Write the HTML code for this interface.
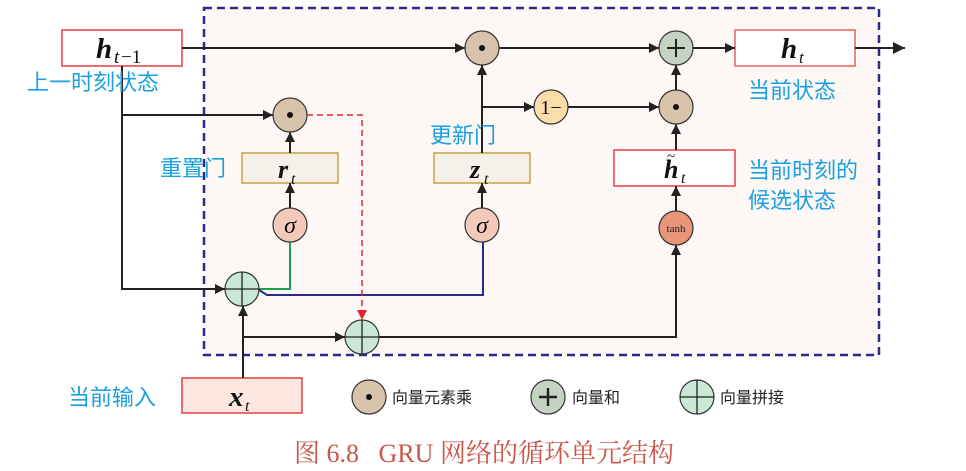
<!DOCTYPE html>
<html><head><meta charset="utf-8"><style>
html,body{margin:0;padding:0;background:#fff;width:966px;height:471px;overflow:hidden}
svg{display:block}
.cn{font-family:"Liberation Sans","Noto Sans CJK SC",sans-serif;fill:#1aa0e0;font-size:22px}
.lg{font-family:"Liberation Sans","Noto Sans CJK SC",sans-serif;fill:#222;font-size:16px}
.m{font-family:"Liberation Serif",serif;font-weight:bold;font-style:italic;fill:#111}
.s{font-family:"Liberation Serif",serif;font-style:italic;fill:#111}
</style></head><body>
<svg width="966" height="471" viewBox="0 0 966 471" xmlns="http://www.w3.org/2000/svg">
<defs>
<marker id="a" viewBox="0 0 10 10" refX="10" refY="5" markerWidth="11" markerHeight="10" markerUnits="userSpaceOnUse" orient="auto"><path d="M0,0 L10,5 L0,10 z" fill="#222"/></marker>
<marker id="ab" viewBox="0 0 10 10" refX="10" refY="5" markerWidth="13" markerHeight="12" markerUnits="userSpaceOnUse" orient="auto"><path d="M0,0 L10,5 L0,10 z" fill="#222"/></marker>
<marker id="ar" viewBox="0 0 10 10" refX="10" refY="5" markerWidth="11" markerHeight="10" markerUnits="userSpaceOnUse" orient="auto"><path d="M0,0 L10,5 L0,10 z" fill="#e8202a"/></marker>
</defs>
<rect x="204" y="8" width="675" height="347" fill="#fdf7f5" stroke="#2a2a8c" stroke-width="2.5" stroke-dasharray="8,5"/>
<rect x="62" y="30" width="120" height="36" fill="#fff" stroke="#e04040" stroke-width="1.5"/>
<text x="96" y="58" class="m" font-size="29">h</text><text x="114" y="63" class="s" font-size="19">t</text><text x="121" y="63" font-family="Liberation Serif" font-size="19" fill="#111">−1</text>
<rect x="735" y="30" width="120" height="36" fill="#fff" stroke="#e86060" stroke-width="1.5"/>
<text x="781" y="58" class="m" font-size="29">h</text><text x="799" y="63" class="s" font-size="17">t</text>
<rect x="242" y="153" width="96" height="30" fill="#f4f1ea" stroke="#c8a040" stroke-width="1.5"/>
<text x="278" y="178" class="m" font-size="26">r</text><text x="291" y="184" class="s" font-size="16">t</text>
<rect x="434" y="153" width="96" height="30" fill="#f4f1ea" stroke="#c8a040" stroke-width="1.5"/>
<text x="470" y="178" class="m" font-size="26">z</text><text x="484" y="184" class="s" font-size="16">t</text>
<rect x="614" y="150" width="121" height="36" fill="#fff" stroke="#e04040" stroke-width="1.5"/>
<text x="664" y="178" class="m" font-size="26">h</text><text x="667" y="161" font-family="Liberation Serif" font-size="15" fill="#111">~</text><text x="681" y="183" class="s" font-size="16">t</text>
<rect x="182" y="378" width="120" height="35" fill="#fce6df" stroke="#e04040" stroke-width="1.5"/>
<text x="229" y="406" class="m" font-size="29">x</text><text x="245" y="411" class="s" font-size="16">t</text>
<g stroke="#222" stroke-width="2" fill="none">
<line x1="182" y1="48" x2="465" y2="48" marker-end="url(#a)"/>
<line x1="499" y1="48" x2="659" y2="48" marker-end="url(#a)"/>
<line x1="693" y1="48" x2="735" y2="48" marker-end="url(#a)"/>
<line x1="855" y1="48" x2="905" y2="48" marker-end="url(#ab)"/>
<polyline points="122,66 122,289 225,289" marker-end="url(#a)"/>
<line x1="122" y1="115" x2="273" y2="115" marker-end="url(#a)"/>
<line x1="290" y1="153" x2="290" y2="132" marker-end="url(#a)"/>
<line x1="290" y1="208" x2="290" y2="183" marker-end="url(#a)"/>
<line x1="482" y1="153" x2="482" y2="65" marker-end="url(#a)"/>
<line x1="482" y1="208" x2="482" y2="183" marker-end="url(#a)"/>
<line x1="482" y1="107" x2="534" y2="107" marker-end="url(#a)"/>
<line x1="568" y1="107" x2="659" y2="107" marker-end="url(#a)"/>
<line x1="676" y1="90" x2="676" y2="65" marker-end="url(#a)"/>
<line x1="676" y1="150" x2="676" y2="124" marker-end="url(#a)"/>
<line x1="676" y1="211" x2="676" y2="186" marker-end="url(#a)"/>
<polyline points="379,337 676,337 676,245" marker-end="url(#a)"/>
<line x1="243" y1="378" x2="243" y2="306" marker-end="url(#a)"/>
<line x1="243" y1="337" x2="345" y2="337" marker-end="url(#a)"/>
</g>
<polyline points="259,289 290,289 290,242" fill="none" stroke="#1aa050" stroke-width="2"/>
<polyline points="259,290 267,295 483,295 483,242" fill="none" stroke="#2a2a8c" stroke-width="2"/>
<polyline points="307,115 362,115 362,320" fill="none" stroke="#e8202a" stroke-width="1.5" stroke-dasharray="6,4" marker-end="url(#ar)"/>
<g stroke="#333" stroke-width="1.2">
<circle cx="482" cy="48" r="17" fill="#d6c3aa"/><circle cx="290" cy="115" r="17" fill="#d6c3aa"/><circle cx="676" cy="107" r="17" fill="#d6c3aa"/>
<circle cx="676" cy="48" r="17" fill="#c5d3c3"/>
<circle cx="551" cy="107" r="17" fill="#fcdcaa"/>
<circle cx="290" cy="225" r="17" fill="#f5c9b8"/><circle cx="482" cy="225" r="17" fill="#f5c9b8"/>
<circle cx="676" cy="228" r="17" fill="#e8957a"/>
<circle cx="242" cy="289" r="17" fill="#cbe8d6"/><circle cx="362" cy="337" r="17" fill="#cbe8d6"/>
<circle cx="369" cy="397" r="17" fill="#d6c3aa"/><circle cx="548" cy="397" r="17" fill="#c5d3c3"/><circle cx="697" cy="397" r="17" fill="#cbe8d6"/>
</g>
<g fill="#111"><circle cx="482" cy="48" r="3"/><circle cx="290" cy="115" r="3"/><circle cx="676" cy="107" r="3"/><circle cx="369" cy="397" r="3"/></g>
<g stroke="#222" stroke-width="1.3">
<line x1="667" y1="48" x2="685" y2="48" stroke-width="2"/><line x1="676" y1="39" x2="676" y2="57" stroke-width="2"/>
<line x1="539" y1="397" x2="557" y2="397" stroke-width="2.4"/><line x1="548" y1="388" x2="548" y2="406" stroke-width="2.4"/>
<line x1="225" y1="289" x2="259" y2="289"/><line x1="242" y1="272" x2="242" y2="306"/>
<line x1="345" y1="337" x2="379" y2="337"/><line x1="362" y1="320" x2="362" y2="354"/>
<line x1="680" y1="397" x2="714" y2="397"/><line x1="697" y1="380" x2="697" y2="414"/>
</g>
<text x="551" y="114" text-anchor="middle" font-family="Liberation Serif" font-size="20" fill="#111">1−</text>
<text x="290" y="233" text-anchor="middle" class="s" font-size="24">σ</text>
<text x="482" y="233" text-anchor="middle" class="s" font-size="24">σ</text>
<text x="676" y="232" text-anchor="middle" font-family="Liberation Serif" font-size="11" fill="#222">tanh</text>
<text x="27" y="90" class="cn">上一时刻状态</text>
<text x="160" y="176" class="cn">重置门</text>
<text x="430" y="143" class="cn">更新门</text>
<text x="748" y="98" class="cn">当前状态</text>
<text x="748" y="178" class="cn">当前时刻的</text>
<text x="748" y="208" class="cn">候选状态</text>
<text x="68" y="405" class="cn">当前输入</text>
<text x="392" y="403" class="lg">向量元素乘</text>
<text x="572" y="403" class="lg">向量和</text>
<text x="720" y="403" class="lg">向量拼接</text>
<text x="484" y="462" text-anchor="middle" font-family="Liberation Serif,Noto Serif CJK SC,serif" font-size="26" fill="#c9574a" xml:space="preserve">图 6.8   GRU 网络的循环单元结构</text>
</svg>
</body></html>
